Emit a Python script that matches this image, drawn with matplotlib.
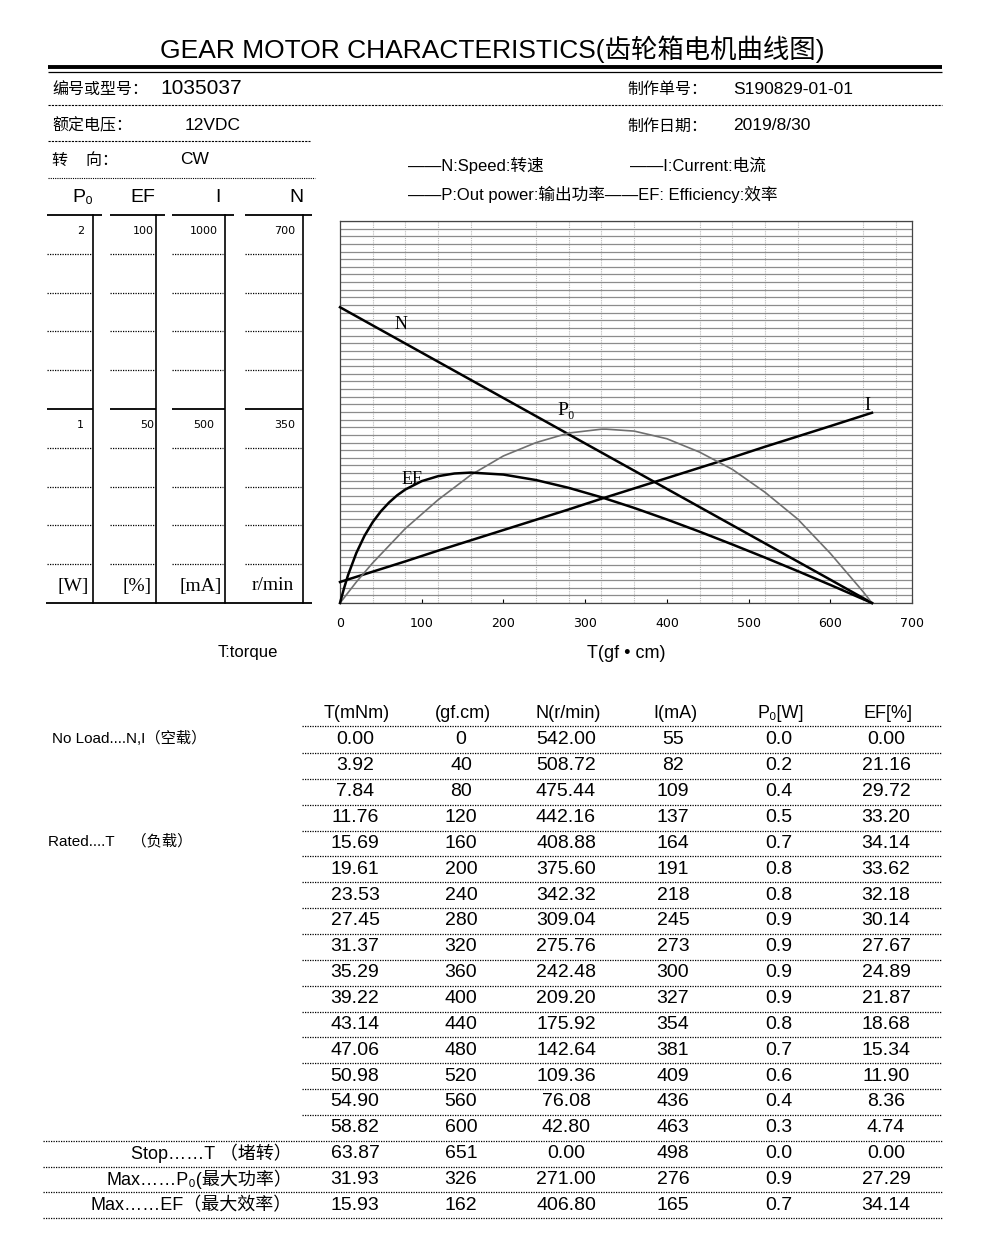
import matplotlib
matplotlib.use('Agg')
import matplotlib.pyplot as plt
from matplotlib import font_manager as fm

names = {f.name for f in fm.fontManager.ttflist}
LAT = 'Liberation Sans Narrow' if 'Liberation Sans Narrow' in names else 'Liberation Sans'
CJK = 'Noto Sans CJK SC'
FAM = [LAT, CJK, 'DejaVu Sans']
plt.rcParams['font.family'] = FAM

# ---- data (read from the sheet) ----
t_mnm = [0.00, 3.92, 7.84, 11.76, 15.69, 19.61, 23.53, 27.45, 31.37, 35.29,
         39.22, 43.14, 47.06, 50.98, 54.90, 58.82, 63.87]
t_gf = [0, 40, 80, 120, 160, 200, 240, 280, 320, 360, 400, 440, 480, 520, 560, 600, 651]
speed = [542.00, 508.72, 475.44, 442.16, 408.88, 375.60, 342.32, 309.04, 275.76,
         242.48, 209.20, 175.92, 142.64, 109.36, 76.08, 42.80, 0.00]
current = [55, 82, 109, 137, 164, 191, 218, 245, 273, 300, 327, 354, 381, 409, 436, 463, 498]
power = [0.0, 0.21, 0.39, 0.54, 0.67, 0.77, 0.84, 0.89, 0.91, 0.90, 0.86, 0.79,
         0.70, 0.58, 0.44, 0.26, 0.0]
eff = [0.00, 21.16, 29.72, 33.20, 34.14, 33.62, 32.18, 30.14, 27.67, 24.89, 21.87,
       18.68, 15.34, 11.90, 8.36, 4.74, 0.00]

# extra points
ef_extra_t = [5, 10, 20, 30, 50, 60, 70, 100, 140]
ef_extra = [3.9, 7.4, 13.1, 17.6, 24.0, 26.3, 28.2, 31.9, 33.9]
p_extra_t = [20, 326, 580, 620, 640]
p_extra = [0.11, 0.91, 0.35, 0.16, 0.06]

max_labels = ['Max\u2026\u2026P\u2080(最大功率）', 'Max\u2026\u2026EF（最大效率）']
max_t_mnm = [31.93, 15.93]
max_t_gf = [326, 162]
max_speed = [271.00, 406.80]
max_current = [276, 165]
max_power = [0.9, 0.7]
max_eff = [27.29, 34.14]

x_ticks = [0, 100, 200, 300, 400, 500, 600, 700]

W, H = 1000, 1256
fig = plt.figure(figsize=(W / 100, H / 100), dpi=100)

# overlay in pixel coordinates for the sheet layout
ov = fig.add_axes([0, 0, 1, 1])
ov.set_xlim(0, W)
ov.set_ylim(H, 0)
ov.axis('off')

DOT = (0, (1, 1))


def hl(y, x0, x1, lw=0.8, ls='-', c='black'):
    ov.plot([x0, x1], [y, y], color=c, lw=lw, ls=ls, solid_capstyle='butt')


def vl(x, y0, y1, lw=1.2):
    ov.plot([x, x], [y0, y1], color='black', lw=lw)


def tx(x, y, s, size=11, ha='left', **kw):
    ov.text(x, y, s, fontsize=size, ha=ha, va='center', **kw)


# title
tx(492, 49, 'GEAR MOTOR CHARACTERISTICS(齿轮箱电机曲线图)', size=19, ha='center')
hl(67, 48, 942, lw=2.8)
hl(72, 48, 942, lw=0.9)

# header rows
tx(52, 89, '编号或型号：', size=11.5)
tx(160, 88, '1035037', size=15, family=['Liberation Sans', CJK])
tx(627, 89, '制作单号：', size=11.5)
tx(733, 89, 'S190829-01-01', size=12.5)
hl(105, 48, 942, lw=0.8, ls=(0, (2, 1)))
tx(52, 126, '额定电压：', size=11.5)
tx(185, 125, '12VDC', size=12.5)
tx(627, 126, '制作日期：', size=11.5)
tx(733, 125, '2019/8/30', size=12.5)
hl(141, 48, 310, lw=0.8, ls=(0, (2, 1)))
tx(52, 160, '转    向：', size=11.5)
tx(180, 159, 'CW', size=12.5)
hl(178, 48, 315, lw=0.8, ls=DOT)

# legend text
tx(408, 166, '\u2014\u2014N:Speed:转速', size=12)
tx(630, 166, '\u2014\u2014I:Current:电流', size=12)
tx(408, 194, '\u2014\u2014P:Out power:输出功率\u2014\u2014EF: Efficiency:效率', size=12)

# left scale panel
cols = [
    dict(head='P\u2080', x0=47, x1=93, top='2', mid='1', unit='[W]', lab_x=84, ha='right'),
    dict(head='EF', x0=110, x1=156, top='100', mid='50', unit='[%]', lab_x=154, ha='right'),
    dict(head='I', x0=172, x1=225, top='1000', mid='500', unit='[mA]', lab_x=204, ha='center'),
    dict(head='N', x0=245, x1=303, top='700', mid='350', unit='r/min', lab_x=285, ha='center'),
]
head_x = [83, 143, 218, 296]
unit_x = [73, 137, 201, 273]
p_top, p_bot = 215, 603
step = (p_bot - p_top) / 10
for c, hx, ux in zip(cols, head_x, unit_x):
    tx(hx, 198, c['head'], size=14, ha='center')
    hl(p_top, c['x0'], c['x1'] + 9, lw=1.3)
    hl(p_top + 5 * step, c['x0'], c['x1'], lw=1.3)
    vl(c['x1'], p_top, p_bot)
    for k in [1, 2, 3, 4, 6, 7, 8, 9]:
        hl(p_top + k * step, c['x0'], c['x1'] - 2, lw=0.9, ls=DOT)
    tx(c['lab_x'], 231, c['top'], size=8, ha=c['ha'], family=['DejaVu Sans'])
    tx(c['lab_x'], 425, c['mid'], size=8, ha=c['ha'], family=['DejaVu Sans'])
    tx(ux, 586, c['unit'], size=14, ha='center', family=['Liberation Serif'])
hl(p_bot, 46, 312, lw=1.3)

tx(248, 652, 'T:torque', size=12, ha='center')

# ---- chart ----
ax = fig.add_axes([340 / W, 1 - 603 / H, 572 / W, 382 / H])
ax.set_xlim(0, 700)
ax.set_ylim(0, 700)
ax.set_yticks([700 * k / 50 for k in range(51)])
ax.tick_params(axis='y', length=0, labelleft=False)
ax.yaxis.grid(True, color='#8c8c8c', lw=0.9)
ax.set_xticks(x_ticks)
ax.set_xticks(list(range(40, 700, 40)), minor=True)
ax.xaxis.grid(True, which='minor', color='#b8b8b8', lw=0.8, ls=DOT)
ax.tick_params(axis='x', which='major', direction='in', length=3, pad=10, labelsize=9)
ax.tick_params(axis='x', which='minor', length=0)
for lab in ax.get_xticklabels():
    lab.set_family(['DejaVu Sans'])
for s in ax.spines.values():
    s.set_linewidth(0.9)
    s.set_color('#444444')
ax.set_axisbelow(True)
ax.set_xlabel('T(gf \u2022 cm)', fontsize=13, labelpad=11)

ax.plot(t_gf, speed, color='black', lw=1.8, zorder=3, clip_on=False)

ax_i = ax.twinx()
ax_i.set_ylim(0, 1000)
ax_i.axis('off')
ax_i.plot(t_gf, current, color='black', lw=1.8, clip_on=False)

p_pts = sorted(zip(t_gf + p_extra_t, power + p_extra))
ax_p = ax.twinx()
ax_p.set_ylim(0, 2)
ax_p.axis('off')
ax_p.plot([p[0] for p in p_pts], [p[1] for p in p_pts], color='#707070', lw=1.2, clip_on=False)

ef_pts = sorted(zip(t_gf + ef_extra_t, eff + ef_extra))
ax_e = ax.twinx()
ax_e.set_ylim(0, 100)
ax_e.axis('off')
ax_e.plot([p[0] for p in ef_pts], [p[1] for p in ef_pts], color='black', lw=1.8, clip_on=False)

# curve labels
ax.text(75, 510, 'N', fontsize=13, ha='center', va='center', family=['Liberation Serif'])
ax.text(277, 353, 'P\u2080', fontsize=14, ha='center', va='center', family=['Liberation Serif', 'DejaVu Sans'])
ax.text(645, 362, 'I', fontsize=13, ha='center', va='center', family=['Liberation Serif'])
ax.text(88, 227, 'EF', fontsize=13, ha='center', va='center', family=['Liberation Serif'])

# ---- table ----
col_x = [355, 461, 566, 673, 779, 886]
heads = ['T(mNm)', '(gf.cm)', 'N(r/min)', 'I(mA)', 'P\u2080[W]', 'EF[%]']
for x, h in zip(col_x, heads):
    tx(x + 2, 713, h, size=13, ha='center')
hl(726, 302, 942, lw=0.9, ls=DOT)

row_h = 25.85
y0 = 740
rows = []
for i in range(len(t_gf)):
    rows.append([f'{t_mnm[i]:.2f}', f'{t_gf[i]}', f'{speed[i]:.2f}', f'{current[i]}',
                 f'{power[i]:.1f}', f'{eff[i]:.2f}'])
for i in range(len(max_t_gf)):
    rows.append([f'{max_t_mnm[i]:.2f}', f'{max_t_gf[i]}', f'{max_speed[i]:.2f}',
                 f'{max_current[i]}', f'{max_power[i]:.1f}', f'{max_eff[i]:.2f}'])

for r, vals in enumerate(rows):
    y = y0 + r * row_h
    for x, v in zip(col_x, vals):
        tx(x, y, v, size=14, ha='center')
    full = r >= 15
    hl(y + 13, 43 if full else 302, 942, lw=0.9, ls=DOT)

tx(52, 738, 'No Load....N,I（空载）', size=11)
tx(48, 841, 'Rated....T    （负载）', size=11)
side = ['Stop\u2026\u2026T （堵转）'] + max_labels
for k, s in enumerate(side):
    tx(292, y0 + (16 + k) * row_h, s, size=13, ha='right')

fig.savefig('out.png', dpi=100)
